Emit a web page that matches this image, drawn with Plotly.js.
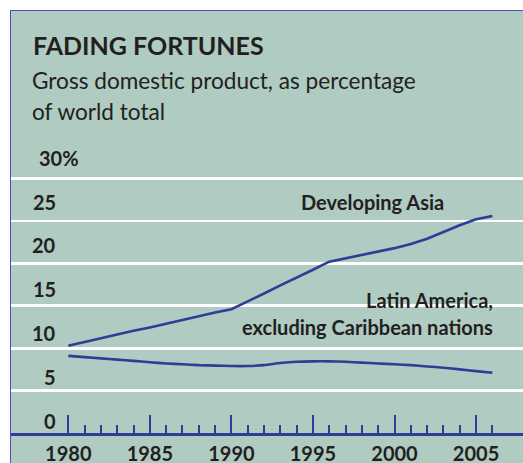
<!DOCTYPE html>
<html><head><meta charset="utf-8">
<script src="https://cdn.plot.ly/plotly-3.0.1.min.js"></script>
<style>
html,body{margin:0;padding:0;background:#fff;width:523px;height:463px;overflow:hidden}
#panel{position:absolute;left:10px;top:10px;width:513px;height:453px;background:#afcbc2;border-left:1.5px solid #4b50b8;border-top:1.5px solid #4b50b8;box-sizing:border-box}
#chart{position:absolute;left:0;top:0;width:523px;height:463px}
</style></head><body>
<div id="panel"></div><div id="chart"></div>
<script>
// ---- data ----
const years = [1980,1981,1982,1983,1984,1985,1986,1987,1988,1989,1990,1991,1992,1993,1994,1995,1996,1997,1998,1999,2000,2001,2002,2003,2004,2005,2006];
const developingAsia = [10.3,10.75,11.15,11.6,12.05,12.45,12.9,13.3,13.75,14.2,14.6,15.5,16.45,17.4,18.3,19.25,20.2,20.6,21.0,21.4,21.8,22.3,22.9,23.7,24.5,25.2,25.6];
const latinAmerica = [9.1,8.95,8.8,8.65,8.5,8.35,8.2,8.1,8.0,7.95,7.9,7.9,8.0,8.25,8.4,8.45,8.45,8.4,8.3,8.2,8.1,8.0,7.85,7.7,7.5,7.3,7.1];
const yTickValues = [0,5,10,15,20,25,30];
const yTickLabels = ['0','5','10','15','20','25','30%'];
const xMajorTicks = [1980,1985,1990,1995,2000,2005];
const xTickLabels = ['1980','1985','1990','1995','2000','2005'];
const seriesNames = ['Developing Asia','Latin America, excluding Caribbean nations'];
const titleText = 'FADING FORTUNES';
const subtitleLines = ['Gross domestic product, as percentage','of world total'];

// ---- styling / layout ----
const W = 523, H = 463;
const M = {l: 11, r: 0, t: 150, b: 30};
const PW = W - M.l - M.r, PH = H - M.t - M.b;
const pxX = px => (px - M.l) / PW;
const pxY = py => (H - M.b - py) / PH;
const ink = '#231f20';
const blue = '#2e3d96';
const FONT = 'Lato, "Open Sans", sans-serif';
const xMinorTicks = years.filter(y => xMajorTicks.indexOf(y) < 0);

const traces = [
  {x: years, y: developingAsia, name: seriesNames[0], type: 'scatter', mode: 'lines',
   line: {color: blue, width: 2.6, shape: 'linear'}, hoverinfo: 'skip'},
  {x: years, y: latinAmerica, name: seriesNames[1], type: 'scatter', mode: 'lines',
   line: {color: blue, width: 2.6, shape: 'spline', smoothing: 0.6}, hoverinfo: 'skip'}
];

const annotations = [];
annotations.push({xref: 'paper', yref: 'paper', x: pxX(30.5), y: pxY(45), xanchor: 'left', yanchor: 'middle',
  text: titleText, showarrow: false, font: {family: FONT, size: 25, weight: 'bold', color: ink}});
annotations.push({xref: 'paper', yref: 'paper', x: pxX(29.5), y: pxY(80), xanchor: 'left', yanchor: 'middle',
  text: subtitleLines[0], showarrow: false, font: {family: FONT, size: 22.6, color: ink}});
annotations.push({xref: 'paper', yref: 'paper', x: pxX(29.5), y: pxY(111.5), xanchor: 'left', yanchor: 'middle',
  text: subtitleLines[1], showarrow: false, font: {family: FONT, size: 22.6, color: ink}});
yTickValues.forEach((v, i) => {
  const lab = yTickLabels[i];
  const pct = lab.indexOf('%') >= 0;
  annotations.push({xref: 'paper', yref: 'y', x: pct ? pxX(36.5) : pxX(58), y: v, yshift: 12.5 + 1.35 * i,
    xanchor: pct ? 'left' : 'right', yanchor: 'middle', text: lab, showarrow: false,
    font: {family: FONT, size: 20, weight: 'bold', color: ink}});
});
annotations.push({xref: 'x', yref: 'y', x: 1998.65, y: 27.2, xanchor: 'center', yanchor: 'middle',
  text: seriesNames[0], showarrow: false, font: {family: FONT, size: 20, weight: 'bold', color: ink}});
annotations.push({xref: 'x', yref: 'y', x: 2006.15, y: 15.72, xanchor: 'right', yanchor: 'middle',
  text: 'Latin America,', showarrow: false, font: {family: FONT, size: 20, weight: 'bold', color: ink}});
annotations.push({xref: 'x', yref: 'y', x: 2006.15, y: 12.48, xanchor: 'right', yanchor: 'middle',
  text: 'excluding Caribbean nations', showarrow: false, font: {family: FONT, size: 20, weight: 'bold', color: ink}});

const layout = {
  width: W, height: H, margin: M, showlegend: false,
  paper_bgcolor: 'rgba(0,0,0,0)', plot_bgcolor: 'rgba(0,0,0,0)',
  xaxis: {range: [1980 - 57.3/16.31, 1980 + 454.7/16.31], showgrid: false, zeroline: false,
    showline: true, linecolor: blue, linewidth: 2.5,
    tickmode: 'array', tickvals: xMajorTicks, ticktext: xTickLabels,
    ticks: 'inside', ticklen: 18, tickwidth: 2, tickcolor: blue,
    tickfont: {family: FONT, size: 20, weight: 'bold', color: ink}, ticklabelstandoff: 1,
    minor: {tickmode: 'array', tickvals: xMinorTicks, ticks: 'inside', ticklen: 8, tickwidth: 2, tickcolor: blue, showgrid: false},
    fixedrange: true},
  yaxis: {range: [0, PH / 8.48], tickmode: 'array', tickvals: yTickValues.filter(v => v > 0),
    showticklabels: false, ticks: '', showgrid: true, gridcolor: '#ffffff', gridwidth: 2.6,
    zeroline: false, showline: false, fixedrange: true},
  annotations: annotations
};

Plotly.newPlot('chart', traces, layout, {displayModeBar: false, staticPlot: true});
</script>
</body></html>
